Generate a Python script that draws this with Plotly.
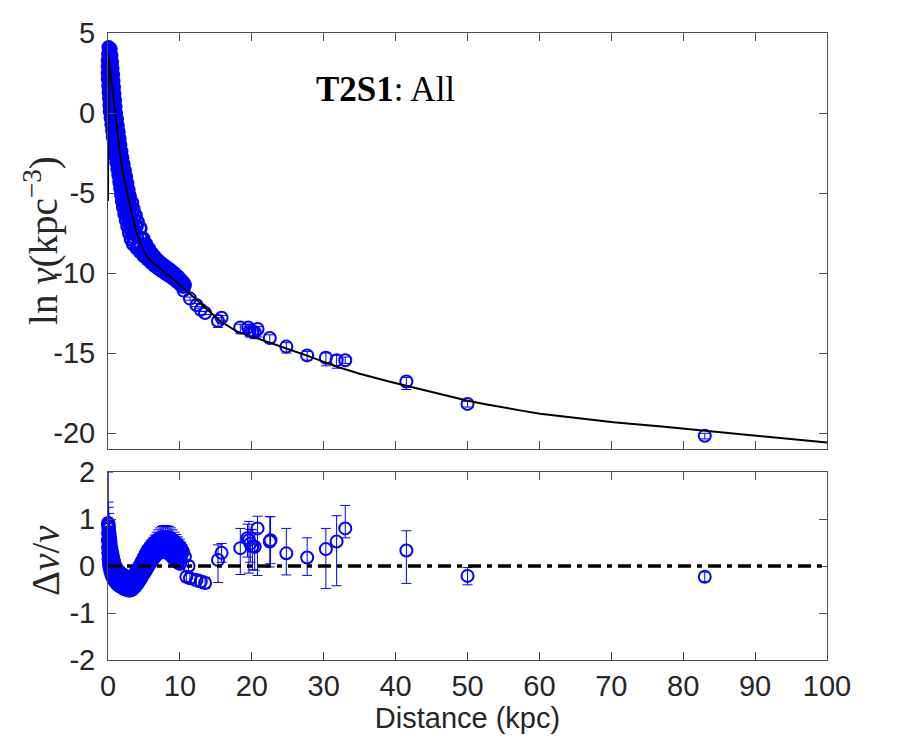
import plotly.graph_objects as go
from plotly.subplots import make_subplots

# ---------------- data ----------------
# model curve (black line)
model_x = [0, 0.04, 0.3, 0.6, 1.0, 1.26, 1.76, 2.2, 2.82, 3.3, 4.0, 4.4, 5.0, 5.6, 6.2, 6.8, 7.4,
           8.0, 8.8, 9.55, 10.5, 11.9, 13.3, 15.6, 17.9, 20, 22.5, 25, 27.6, 31.8, 35, 39.2, 45,
           49.9, 52.5, 55, 57.5, 60.1, 65, 70.3, 77, 83, 90, 100]
model_y = [-5.5, 3.66, 2.68, 1.55, 0.04, -0.94, -2.82, -4.0, -5.33, -6.3, -7.5, -8.05, -8.65,
           -9.08, -9.35, -9.58, -9.8, -10.0, -10.28, -10.55, -10.95, -11.5, -12.05, -13.0,
           -13.65, -13.95, -14.35, -14.75, -15.15, -15.85, -16.3, -16.8, -17.45, -17.97, -18.2,
           -18.38, -18.6, -18.8, -19.07, -19.33, -19.6, -19.85, -20.15, -20.6]

# dense inner-halo points, top panel: five strands across the band (lower edge -> upper edge)
dense_l_x = [0.1, 0.05, 0.0, 0.0, 0.0, 0.02, 0.07, 0.12, 0.18, 0.23, 0.28, 0.39, 0.5, 0.6, 0.7,
             0.85, 0.97, 1.07, 1.19, 1.34, 1.48, 1.6, 1.73, 1.84, 1.97, 2.12, 2.3, 2.5, 2.72,
             2.95, 3.2, 3.5, 4.0, 4.5, 5.0, 5.5, 6.0, 6.5, 7.0, 7.5, 8.0, 8.5, 9.0, 9.5, 10.0,
             10.4]
dense_l_y = [4.1, 3.7, 3.3, 2.9, 2.5, 2.1, 1.7, 1.3, 0.9, 0.5, 0.1, -0.3, -0.7, -1.1, -1.5, -1.9,
             -2.3, -2.7, -3.1, -3.5, -3.9, -4.3, -4.7, -5.1, -5.5, -5.9, -6.3, -6.7, -7.1, -7.5,
             -7.9, -8.2, -8.45, -8.7, -8.95, -9.15, -9.35, -9.55, -9.72, -9.88, -10.03, -10.18,
             -10.33, -10.5, -10.7, -10.85]
dense_lm_x = [0.15, 0.13, 0.15, 0.16, 0.19, 0.23, 0.29, 0.35, 0.41, 0.47, 0.56, 0.68, 0.78, 0.89,
              1.02, 1.15, 1.26, 1.38, 1.53, 1.68, 1.82, 1.96, 2.09, 2.24, 2.41, 2.61, 2.83, 3.07,
              3.32, 3.6, 4.2, 4.75, 5.25, 5.75, 6.25, 6.75, 7.25, 7.75, 8.25, 8.75, 9.25, 9.75,
              10.2]
dense_lm_y = [3.8, 3.4, 3.0, 2.6, 2.2, 1.8, 1.4, 1.0, 0.6, 0.2, -0.2, -0.6, -1.0, -1.4, -1.8,
              -2.2, -2.6, -3.0, -3.4, -3.8, -4.2, -4.6, -5.0, -5.4, -5.8, -6.2, -6.6, -7.0, -7.4,
              -7.8, -8.25, -8.61, -8.86, -9.09, -9.31, -9.51, -9.68, -9.84, -9.99, -10.15,
              -10.31, -10.5, -10.69]
dense_m_x = [0.22, 0.25, 0.28, 0.31, 0.35, 0.39, 0.45, 0.52, 0.58, 0.65, 0.73, 0.85, 0.96, 1.07,
             1.2, 1.32, 1.44, 1.57, 1.7, 1.88, 2.02, 2.18, 2.33, 2.48, 2.69, 2.9, 3.15, 3.4, 3.66,
             4.0, 4.5, 5.0, 5.5, 6.0, 6.5, 7.0, 7.5, 8.0, 8.5, 9.0, 9.5, 10.0]
dense_m_y = [3.9, 3.5, 3.1, 2.7, 2.3, 1.9, 1.5, 1.1, 0.7, 0.3, -0.1, -0.5, -0.9, -1.3, -1.7, -2.1,
             -2.5, -2.9, -3.3, -3.7, -4.1, -4.5, -4.9, -5.3, -5.7, -6.1, -6.5, -6.9, -7.3, -7.7,
             -8.25, -8.52, -8.8, -9.05, -9.28, -9.47, -9.65, -9.8, -9.95, -10.12, -10.3, -10.52]
dense_mu_x = [0.33, 0.39, 0.44, 0.49, 0.54, 0.6, 0.67, 0.74, 0.81, 0.88, 0.99, 1.1, 1.22, 1.35,
              1.46, 1.59, 1.72, 1.87, 2.03, 2.2, 2.36, 2.52, 2.69, 2.92, 3.14, 3.39, 3.67, 3.97,
              4.6, 5.1, 5.5, 5.9, 6.3, 6.7, 7.1, 7.5, 7.9, 8.3, 8.7, 9.1, 9.5, 9.9, 10.3]
dense_mu_y = [3.7, 3.3, 2.9, 2.5, 2.1, 1.7, 1.3, 0.9, 0.5, 0.1, -0.3, -0.7, -1.1, -1.5, -1.9,
              -2.3, -2.7, -3.1, -3.5, -3.9, -4.3, -4.7, -5.1, -5.5, -5.9, -6.3, -6.7, -7.1,
              -7.83, -8.3, -8.58, -8.82, -9.04, -9.23, -9.38, -9.54, -9.68, -9.8, -9.92, -10.07,
              -10.22, -10.4, -10.58]
dense_u_x = [0.33, 0.44, 0.53, 0.6, 0.67, 0.73, 0.79, 0.86, 0.95, 1.01, 1.09, 1.21, 1.33, 1.46,
             1.58, 1.69, 1.83, 1.97, 2.14, 2.31, 2.49, 2.66, 2.84, 3.02, 3.33, 3.53, 3.83, 4.13,
             4.5, 4.9, 5.3, 5.7, 6.1, 6.5, 6.9, 7.3, 7.7, 8.1, 8.5, 8.9, 9.3, 9.7, 10.1, 10.5]
dense_u_y = [4.0, 3.6, 3.2, 2.8, 2.4, 2.0, 1.6, 1.2, 0.8, 0.4, 0.0, -0.4, -0.8, -1.2, -1.6, -2.0,
             -2.4, -2.8, -3.2, -3.6, -4.0, -4.4, -4.8, -5.2, -5.6, -6.0, -6.4, -6.8, -7.2, -7.85,
             -8.2, -8.5, -8.78, -9.0, -9.2, -9.35, -9.5, -9.63, -9.76, -9.9, -10.05, -10.22,
             -10.42, -10.6]

# isolated outer-halo points, top panel
iso_x = [10.5, 10.7, 11.4, 12.3, 12.9, 13.5, 15.3, 15.8, 18.4, 19.5, 19.7, 20.1, 20.4, 20.8,
         22.5, 24.8, 27.7, 30.3, 31.8, 33.0, 41.5, 50.0, 83.0]
iso_y = [-11.1, -10.76, -11.6, -12.0, -12.3, -12.5, -13.0, -12.8, -13.4, -13.4, -13.6, -13.65,
         -13.7, -13.5, -14.06, -14.6, -15.15, -15.3, -15.45, -15.45, -16.78, -18.18, -20.17]
iso_err_plus = [0.1, 0.1, 0.1, 0.1, 0.1, 0.1, 0.2, 0.15, 0.2, 0.2, 0.2, 0.2, 0.2, 0.15, 0.2,
                0.25, 0.25, 0.3, 0.3, 0.2, 0.25, 0.15, 0.15]
iso_err_minus = [0.1, 0.1, 0.1, 0.1, 0.1, 0.1, 0.4, 0.15, 0.4, 0.3, 0.4, 0.3, 0.4, 0.5, 0.3,
                 0.4, 0.3, 0.5, 0.5, 0.2, 0.5, 0.2, 0.2]

# residuals, bottom panel: dense band (upper / middle / lower edge)
res_a_x = [0.03, 0.06, 0.1, 0.15, 0.2, 0.25, 0.3, 0.38, 0.45, 0.55, 0.65, 0.8, 1.0, 1.3, 1.6,
           1.9, 2.2, 2.5, 2.8, 3.1, 3.4, 3.7, 4.0, 4.25, 4.5, 4.75, 5.0, 5.25, 5.5, 5.75, 6.0,
           6.25, 6.5, 6.75, 7.0, 7.25, 7.5, 7.75, 8.0, 8.25, 8.5, 8.75, 9.0, 9.25, 9.5, 9.75,
           10.0, 10.2, 10.4]
res_a_y = [0.91, 0.86, 0.8, 0.72, 0.65, 0.58, 0.5, 0.42, 0.35, 0.27, 0.2, 0.1, 0.0, -0.08, -0.13,
           -0.17, -0.2, -0.23, -0.25, -0.25, -0.23, -0.18, -0.1, -0.04, 0.03, 0.1, 0.18, 0.25,
           0.32, 0.37, 0.42, 0.46, 0.5, 0.54, 0.57, 0.59, 0.6, 0.61, 0.61, 0.6, 0.6, 0.58, 0.55,
           0.52, 0.48, 0.44, 0.4, 0.35, 0.3]
res_a_err = [1.09, 0.5, 0.45, 0.4, 0.3, 0.25, 0.2, 0.15, 0.12, 0.1, 0.08, 0.07, 0.06, 0.05,
             0.05, 0.05, 0.05, 0.05, 0.05, 0.05, 0.05, 0.05, 0.06, 0.06, 0.07, 0.08, 0.09, 0.1,
             0.11, 0.12, 0.13, 0.14, 0.16, 0.18, 0.2, 0.22, 0.24, 0.25, 0.25, 0.25, 0.24, 0.23,
             0.22, 0.2, 0.19, 0.18, 0.17, 0.16, 0.15]
res_m_x = [0.04, 0.09, 0.14, 0.2, 0.28, 0.36, 0.45, 0.55, 0.7, 0.9, 1.1, 1.35, 1.6, 1.85, 2.1,
           2.35, 2.6, 2.85, 3.1, 3.35, 3.6, 3.85, 4.1, 4.35, 4.6, 4.85, 5.1, 5.35, 5.6, 5.85,
           6.1, 6.35, 6.6, 6.85, 7.1, 7.4, 7.7, 8.0, 8.3, 8.6, 8.9, 9.2, 9.5, 9.8, 10.1]
res_m_y = [0.7, 0.55, 0.42, 0.32, 0.22, 0.14, 0.07, 0.0, -0.06, -0.12, -0.18, -0.23, -0.27,
           -0.3, -0.33, -0.35, -0.37, -0.38, -0.38, -0.37, -0.34, -0.3, -0.24, -0.18, -0.11,
           -0.04, 0.03, 0.1, 0.16, 0.22, 0.27, 0.31, 0.35, 0.39, 0.42, 0.45, 0.46, 0.46, 0.45,
           0.43, 0.4, 0.35, 0.3, 0.25, 0.2]
res_b_x = [0.02, 0.05, 0.08, 0.12, 0.18, 0.25, 0.35, 0.5, 0.65, 0.8, 1.0, 1.2, 1.4, 1.6, 1.8,
           2.0, 2.2, 2.4, 2.6, 2.8, 3.0, 3.2, 3.4, 3.6, 3.8, 4.0, 4.2, 4.4, 4.6, 4.8, 5.0, 5.2,
           5.4, 5.6, 5.8, 6.0, 6.2, 6.4, 6.6, 6.8, 7.0, 7.3, 7.6, 7.9, 8.2, 8.5, 8.8, 9.1, 9.4,
           9.7, 10.0]
res_b_y = [0.55, 0.4, 0.28, 0.15, 0.05, -0.03, -0.1, -0.18, -0.24, -0.28, -0.33, -0.37, -0.4,
           -0.42, -0.44, -0.46, -0.48, -0.49, -0.5, -0.51, -0.52, -0.51, -0.49, -0.46, -0.43,
           -0.39, -0.35, -0.3, -0.25, -0.2, -0.15, -0.1, -0.05, 0.0, 0.05, 0.1, 0.14, 0.18,
           0.22, 0.25, 0.28, 0.3, 0.31, 0.31, 0.29, 0.26, 0.22, 0.17, 0.12, 0.08, 0.05]
res_b_err = [0.08]
res_m_err = [0.12]

# residuals, bottom panel: isolated points
res_iso_x = [10.7, 11.2, 10.9, 11.4, 12.3, 12.9, 13.5, 15.3, 15.8, 18.4, 19.4, 19.6, 19.8, 20.1,
             20.4, 20.8, 22.5, 22.6, 24.8, 27.7, 30.3, 31.8, 33.0, 41.5, 50.0, 83.0]
res_iso_y = [0.2, 0.0, -0.23, -0.26, -0.3, -0.33, -0.36, 0.13, 0.28, 0.38, 0.59, 0.55, 0.48,
             0.42, 0.41, 0.8, 0.52, 0.55, 0.27, 0.18, 0.36, 0.52, 0.8, 0.33, -0.21, -0.23]
res_iso_plus = [0.1, 0.1, 0.1, 0.1, 0.12, 0.12, 0.12, 0.32, 0.2, 0.42, 0.3, 0.4, 0.3, 0.35, 0.3,
                0.26, 0.53, 0.5, 0.53, 0.42, 0.44, 0.55, 0.49, 0.42, 0.18, 0.1]
res_iso_minus = [0.1, 0.1, 0.1, 0.1, 0.12, 0.12, 0.12, 0.48, 0.2, 0.56, 0.4, 0.7, 0.4, 0.5, 0.5,
                 1.0, 0.54, 0.5, 0.46, 0.38, 0.84, 0.94, 0.2, 0.7, 0.19, 0.1]

x_ticks = [0, 10, 20, 30, 40, 50, 60, 70, 80, 90, 100]
top_y_ticks = [-20, -15, -10, -5, 0, 5]
top_y_labels = ["-20", "-15", "-10", "-5", "0", "5"]
bot_y_ticks = [-2, -1, 0, 1, 2]
bot_y_labels = ["-2", "-1", "0", "1", "2"]

# ---------------- figure ----------------
BLUE = "#0000ff"
AXC = "#4d4d4d"
TXT = "#262626"
SANS = "Liberation Sans, Arial, sans-serif"
SERIF = "Liberation Serif, DejaVu Serif, serif"

fig = make_subplots(rows=2, cols=1)

mk = dict(symbol="circle-open", size=12, color=BLUE, line=dict(width=2, color=BLUE))
mk_dense = dict(symbol="circle-open", size=12, color=BLUE, line=dict(width=2.6, color=BLUE))

for xs, ys in [(dense_l_x, dense_l_y), (dense_lm_x, dense_lm_y), (dense_m_x, dense_m_y),
               (dense_mu_x, dense_mu_y), (dense_u_x, dense_u_y)]:
    fig.add_trace(go.Scatter(x=xs, y=ys, mode="markers", marker=mk_dense, cliponaxis=False,
                             showlegend=False), row=1, col=1)

fig.add_trace(go.Scatter(x=iso_x, y=iso_y, mode="markers", marker=mk, cliponaxis=False,
                         error_y=dict(type="data", symmetric=False, array=iso_err_plus,
                                      arrayminus=iso_err_minus, color=BLUE, thickness=1, width=5),
                         showlegend=False), row=1, col=1)

fig.add_trace(go.Scatter(x=model_x, y=model_y, mode="lines",
                         line=dict(color="black", width=2), showlegend=False), row=1, col=1)

fig.add_trace(go.Scatter(x=res_b_x, y=res_b_y, mode="markers", marker=mk_dense, cliponaxis=False,
                         error_y=dict(type="constant", value=res_b_err[0], color=BLUE,
                                      thickness=1, width=5),
                         showlegend=False), row=2, col=1)
fig.add_trace(go.Scatter(x=res_m_x, y=res_m_y, mode="markers", marker=mk_dense, cliponaxis=False,
                         error_y=dict(type="constant", value=res_m_err[0], color=BLUE,
                                      thickness=1, width=5),
                         showlegend=False), row=2, col=1)
fig.add_trace(go.Scatter(x=res_a_x, y=res_a_y, mode="markers", marker=mk_dense, cliponaxis=False,
                         error_y=dict(type="data", array=res_a_err, color=BLUE, thickness=1,
                                      width=5),
                         showlegend=False), row=2, col=1)
fig.add_trace(go.Scatter(x=res_iso_x, y=res_iso_y, mode="markers", marker=mk, cliponaxis=False,
                         error_y=dict(type="data", symmetric=False, array=res_iso_plus,
                                      arrayminus=res_iso_minus, color=BLUE, thickness=1, width=5),
                         showlegend=False), row=2, col=1)

fig.add_hline(y=0, line=dict(color="black", width=3.5, dash="13px,6px,5px,6px"), row=2, col=1)

axis_common = dict(showline=True, linecolor=AXC, linewidth=1, mirror="ticks", ticks="inside",
                   ticklen=8, tickcolor=AXC, tickwidth=1, showgrid=False, zeroline=False,
                   tickfont=dict(family=SANS, size=29, color=TXT))

fig.update_xaxes(range=[0, 100], tickvals=x_ticks, showticklabels=False, **axis_common,
                 row=1, col=1)
fig.update_xaxes(range=[0, 100], tickvals=x_ticks, ticklabelstandoff=0, **axis_common,
                 title=dict(text="Distance (kpc)", font=dict(family=SANS, size=29, color=TXT),
                            standoff=2),
                 row=2, col=1)
fig.update_yaxes(range=[-21, 5], tickvals=top_y_ticks, ticktext=top_y_labels,
                 ticklabelstandoff=6, **axis_common, row=1, col=1)
fig.update_yaxes(range=[-2, 2], tickvals=bot_y_ticks, ticktext=bot_y_labels,
                 ticklabelstandoff=6, **axis_common, row=2, col=1)

fig.update_layout(
    width=900, height=750,
    margin=dict(l=108, r=73, t=33, b=90),
    paper_bgcolor="white", plot_bgcolor="white",
    xaxis=dict(domain=[0, 1]), xaxis2=dict(domain=[0, 1]),
    yaxis=dict(domain=[0.3365, 1.0]), yaxis2=dict(domain=[0.0, 0.2998]),
    annotations=[
        dict(x=38.6, y=1.45, xref="x", yref="y", showarrow=False,
             text="<b>T2S1</b>: All", font=dict(family=SERIF, size=35, color="black")),
        dict(x=-0.0918, y=0.67, xref="paper", yref="paper", showarrow=False, textangle=-90,
             xanchor="center", yanchor="middle",
             text="ln <i>ν</i>(kpc<sup>−3</sup>)", font=dict(family=SERIF, size=39, color=TXT)),
        dict(x=-0.0862, y=0.158, xref="paper", yref="paper", showarrow=False, textangle=-90,
             xanchor="center", yanchor="middle",
             text="Δ<i>ν</i>/<i>ν</i>", font=dict(family=SERIF, size=39, color=TXT)),
    ],
)

fig.write_html("out.html")
